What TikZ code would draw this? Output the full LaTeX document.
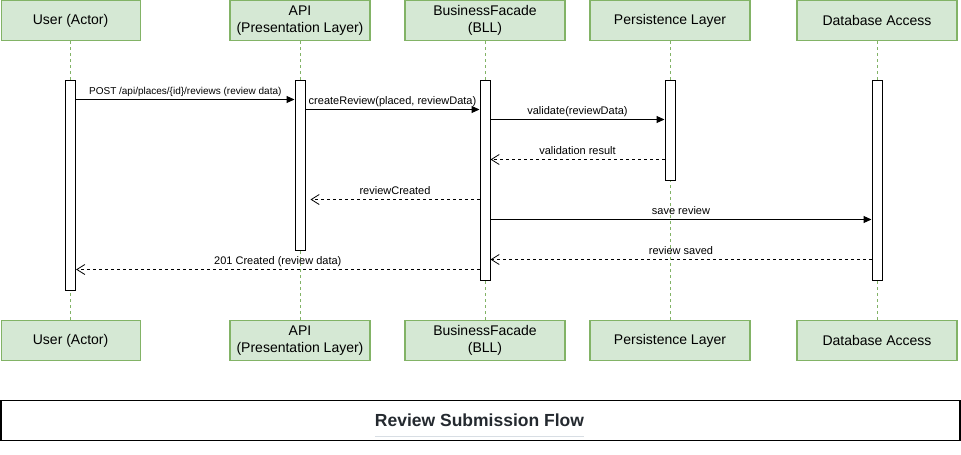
\documentclass[tikz,border=0pt]{standalone}
\usepackage{fontspec}
\setmainfont{Liberation Sans}
\usetikzlibrary{arrows.meta}
\definecolor{boxfill}{HTML}{D5E8D4}
\definecolor{boxline}{HTML}{82B366}
\definecolor{titlecol}{HTML}{24292F}
\definecolor{rulecol}{HTML}{D8DEE4}
\tikzset{
  actor/.style={draw=boxline, fill=boxfill, line width=1.2pt, minimum height=40pt, inner sep=0pt, align=center, font=\fontsize{14}{17}\selectfont},
  actbar/.style={draw=black, fill=white, line width=1pt, minimum width=10pt, inner sep=0pt},
  lifeline/.style={draw=boxline, line width=1pt, dash pattern=on 3pt off 3pt},
  callmsg/.style={draw=black, line width=1pt, -{Triangle[length=8pt,width=7pt]}},
  retmsg/.style={draw=black, line width=1pt, dash pattern=on 3pt off 3pt, -{Straight Barb[length=8pt,width=10pt,line width=0.8pt]}},
  lbl/.style={midway, anchor=base, yshift=5pt, inner sep=0pt, font=\fontsize{11}{13}\selectfont},
}
\begin{document}
\begin{tikzpicture}[x=1pt,y=1pt]
\useasboundingbox (0,0) rectangle (961,-455);
% top participants
\node[actor, minimum width=139pt] (u1) at (70.6,-20.6) {User (Actor)};
\node[actor, minimum width=140pt] (a1) at (300,-20.6) {API\\(Presentation Layer)};
\node[actor, minimum width=160pt] (b1) at (485,-20.6) {BusinessFacade\\(BLL)};
\node[actor, minimum width=160pt] (p1) at (670,-20.6) {Persistence Layer};
\node[actor, minimum width=160pt] (d1) at (877,-20.6) {Database Access};
% bottom participants
\node[actor, minimum width=139pt] (u2) at (70.6,-340.4) {User (Actor)};
\node[actor, minimum width=140pt] (a2) at (300,-340.4) {API\\(Presentation Layer)};
\node[actor, minimum width=160pt] (b2) at (485,-340.4) {BusinessFacade\\(BLL)};
\node[actor, minimum width=160pt] (p2) at (670,-340.4) {Persistence Layer};
\node[actor, minimum width=160pt] (d2) at (877,-340.4) {Database Access};
% lifelines
\draw[lifeline] (u1.south) -- (u2.north);
\draw[lifeline] (a1.south) -- (a2.north);
\draw[lifeline] (b1.south) -- (b2.north);
\draw[lifeline] (p1.south) -- (p2.north);
\draw[lifeline] (d1.south) -- (d2.north);
% activation bars
\node[actbar, minimum height=210pt] (ub) at (70.6,-185) {};
\node[actbar, minimum height=170pt] (ab) at (300,-165) {};
\node[actbar, minimum height=200pt] (bb) at (485,-180) {};
\node[actbar, minimum height=100pt] (pb) at (670,-130) {};
\node[actbar, minimum height=200pt] (db) at (877,-180) {};
% messages
\draw[callmsg] ([yshift=-20pt]ub.north east) -- ([yshift=-20pt]ab.north west)
  node[lbl, font=\fontsize{10}{12}\selectfont] {POST /api/places/\{id\}/reviews (review data)};
\draw[callmsg] ([yshift=-30pt]ab.north east) -- ([yshift=-30pt]bb.north west)
  node[lbl] {createReview(placed, reviewData)};
\draw[callmsg] ([yshift=-40pt]bb.north east) -- ([yshift=-40pt]pb.north west)
  node[lbl] {validate(reviewData)};
\draw[retmsg] ([yshift=-80pt]pb.north west) -- ([yshift=-80pt]bb.north east)
  node[lbl] {validation result};
\draw[retmsg] ([yshift=-120pt]bb.north west) -- ([yshift=-120pt,xshift=5pt]ab.north east)
  node[lbl] {reviewCreated};
\draw[callmsg] ([yshift=-140pt]bb.north east) -- ([yshift=-140pt]db.north west)
  node[lbl] {save review};
\draw[retmsg] ([yshift=-180pt]db.north west) -- ([yshift=-180pt]bb.north east)
  node[lbl] {review saved};
\draw[retmsg] ([yshift=-190pt]bb.north west) -- ([yshift=-190pt]ub.north east)
  node[lbl] {201 Created (review data)};
% title
\node[draw=black, line width=1.2pt, minimum width=959pt, minimum height=40pt, inner sep=0pt] (tb) at (480.5,-420.3) {};
\node[text=titlecol, font=\bfseries\fontsize{17.5}{20}\selectfont, inner sep=0pt] (tt) at (479.5,-420) {Review Submission Flow};
\draw[rulecol, line width=0.8pt] ([yshift=-10pt]tt.south west) -- ([yshift=-10pt]tt.south east);
\end{tikzpicture}
\end{document}
